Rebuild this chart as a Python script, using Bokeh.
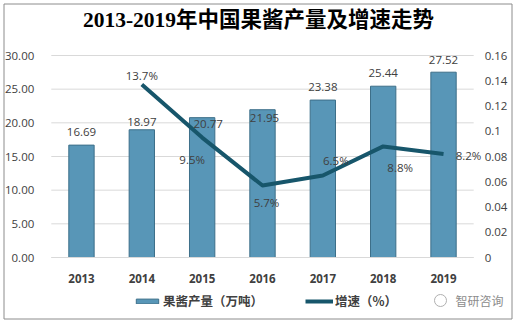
from bokeh.plotting import figure
from bokeh.models import (Range1d, LinearAxis, FixedTicker, Legend, LegendItem,
                          ColumnDataSource, NumeralTickFormatter)
from bokeh.core.properties import value
from bokeh.embed import file_html
from bokeh.resources import INLINE

# ---------------- data ----------------
years = ["2013", "2014", "2015", "2016", "2017", "2018", "2019"]
production = [16.69, 18.97, 20.77, 21.95, 23.38, 25.44, 27.52]
growth_years = ["2014", "2015", "2016", "2017", "2018", "2019"]
growth = [0.137, 0.095, 0.057, 0.065, 0.088, 0.082]
left_ticks = [0, 5, 10, 15, 20, 25, 30]
right_ticks = [0, 0.02, 0.04, 0.06, 0.08, 0.1, 0.12, 0.14, 0.16]
right_tick_labels = ["0", "0.02", "0.04", "0.06", "0.08", "0.1", "0.12", "0.14", "0.16"]
title_text = "2013-2019年中国果酱产量及增速走势"
legend_labels = ["果酱产量（万吨）", "增速（%）"]
watermark = "智研咨询"

# ---------------- layout (pixels) ----------------
W, H = 518, 323
PLOT_L, PLOT_R = 50.8, 473.2      # pixel extent of x = -0.5 .. 6.5
PLOT_T, PLOT_B = 55.0, 257.0      # pixel extent of y = 30 .. 0
n = len(years)
xpx = (PLOT_R - PLOT_L) / n
ypx = (PLOT_B - PLOT_T) / 30.0
gpx = (PLOT_B - PLOT_T) / 0.16

def px_x(px):
    return -0.5 + (px - PLOT_L) / xpx

def px_y(py):
    return (PLOT_B - py) / ypx

x_range = Range1d(px_x(0), px_x(W))
y_range = Range1d(px_y(H), px_y(0))
g_range = Range1d(-(H - PLOT_B) / gpx, 0.16 + PLOT_T / gpx)

# label offsets (style only, screen px; +y = down)
bar_label_dx = [0, 0, 6, 2, 0, 0, 0]
bar_label_dy = [-13, -8, 6, 8, -13, -13, -12]
growth_label_dx = [0, -10, 4, 13, 17, 25]
growth_label_dy = [-9, 22, 17, -15, 21, 2]

xi = list(range(n))
gx = [years.index(y) for y in growth_years]

CJK = "Noto Sans CJK SC"
TXT = "#404040"

p = figure(width=W, height=H, output_backend="svg", toolbar_location=None,
           x_range=x_range, y_range=y_range, min_border=0,
           x_axis_location=None, y_axis_location=None)
p.outline_line_color = None
p.background_fill_color = "white"
p.border_fill_color = "white"
p.xgrid.visible = False
p.ygrid.visible = False
p.extra_y_ranges = {"g": g_range}

# outer frame of the picture
p.quad(left=[px_x(3.5)], right=[px_x(511.5)], top=[px_y(3.5)], bottom=[px_y(318.5)],
       fill_color=None, line_color="#8c8c8c", line_width=1)

# grid lines at left ticks
p.segment(x0=[-0.5] * len(left_ticks), x1=[n - 0.5] * len(left_ticks),
          y0=left_ticks, y1=left_ticks, line_color="#d9d9d9", line_width=1)

# bars
bsrc = ColumnDataSource(dict(x=xi, top=production,
                             lbl=["%.2f" % v for v in production],
                             dx=bar_label_dx, dy=bar_label_dy))
bars = p.vbar(x="x", top="top", width=0.42, source=bsrc,
              fill_color="#5896b7", line_color="#3d6f89", line_width=1)
p.text(x="x", y="top", text="lbl", source=bsrc, x_offset="dx", y_offset="dy",
       text_align="center", text_baseline="middle", text_font=value("Open Sans"),
       text_font_size="11.5px", text_color=TXT)

# growth line
gsrc = ColumnDataSource(dict(x=gx, y=growth,
                             lbl=["%.1f%%" % (v * 100) for v in growth],
                             dx=growth_label_dx, dy=growth_label_dy))
line = p.line(x="x", y="y", source=gsrc, y_range_name="g",
              line_color="#17566b", line_width=4, line_join="round")
p.text(x="x", y="y", text="lbl", source=gsrc, y_range_name="g",
       x_offset="dx", y_offset="dy", text_align="center", text_baseline="middle",
       text_font=value("Open Sans"), text_font_size="11.5px", text_color=TXT)

# axes placed at fixed data locations
xa = LinearAxis(fixed_location=0, ticker=FixedTicker(ticks=xi), bounds=(-0.5, n - 0.5))
xa.major_label_overrides = {i: y for i, y in zip(xi, years)}
xa.major_label_text_font = "Open Sans"
xa.major_label_text_font_style = "bold"
xa.major_label_text_font_size = "11.5px"
xa.major_label_text_color = TXT
xa.axis_line_color = "#d9d9d9"
xa.major_tick_line_color = None
xa.minor_tick_line_color = None
xa.major_label_standoff = 10
p.add_layout(xa, "below")

ya = LinearAxis(fixed_location=-0.5, ticker=FixedTicker(ticks=left_ticks), bounds=(0, 30))
ya.formatter = NumeralTickFormatter(format="0.00")
ya.major_label_text_font = "Open Sans"
ya.major_label_text_font_size = "11.5px"
ya.major_label_text_color = TXT
ya.axis_line_color = None
ya.major_tick_line_color = None
ya.minor_tick_line_color = None
ya.major_label_standoff = 11
p.add_layout(ya, "left")

ry = LinearAxis(y_range_name="g", fixed_location=n - 0.5,
                ticker=FixedTicker(ticks=right_ticks), bounds=(0, 0.16))
ry.major_label_overrides = {t: l for t, l in zip(right_ticks, right_tick_labels)}
ry.major_label_text_font = "Open Sans"
ry.major_label_text_font_size = "11.5px"
ry.major_label_text_color = TXT
ry.axis_line_color = None
ry.major_tick_line_color = None
ry.minor_tick_line_color = None
ry.major_label_standoff = 5
p.add_layout(ry, "right")

# title
p.text(x=[px_x(258)], y=[px_y(19)], text=[title_text],
       text_font=value("Liberation Serif, Noto Sans CJK SC"), text_font_style="bold",
       text_font_size="21.5px", text_color="#000000",
       text_align="center", text_baseline="middle")

# watermark
p.scatter(x=[px_x(440)], y=[px_y(300)], marker="circle", size=12,
          fill_color=None, line_color="#b0b0b0", line_width=1)
p.text(x=[px_x(479)], y=[px_y(300)], text=[watermark], text_font=value(CJK),
       text_font_size="12px", text_color="#8c8c8c",
       text_align="center", text_baseline="middle")

legend = Legend(items=[LegendItem(label=legend_labels[0], renderers=[bars]),
                       LegendItem(label=legend_labels[1], renderers=[line])],
                orientation="horizontal", location=(133, 13),
                label_text_font=CJK, label_text_font_size="12.5px",
                label_text_font_style="bold", label_text_color=TXT,
                glyph_width=28, glyph_height=6, label_height=14, label_standoff=2,
                spacing=42, padding=0, margin=0,
                border_line_color=None, background_fill_alpha=0)
p.add_layout(legend)

open("out.html", "w").write(file_html(p, INLINE))
